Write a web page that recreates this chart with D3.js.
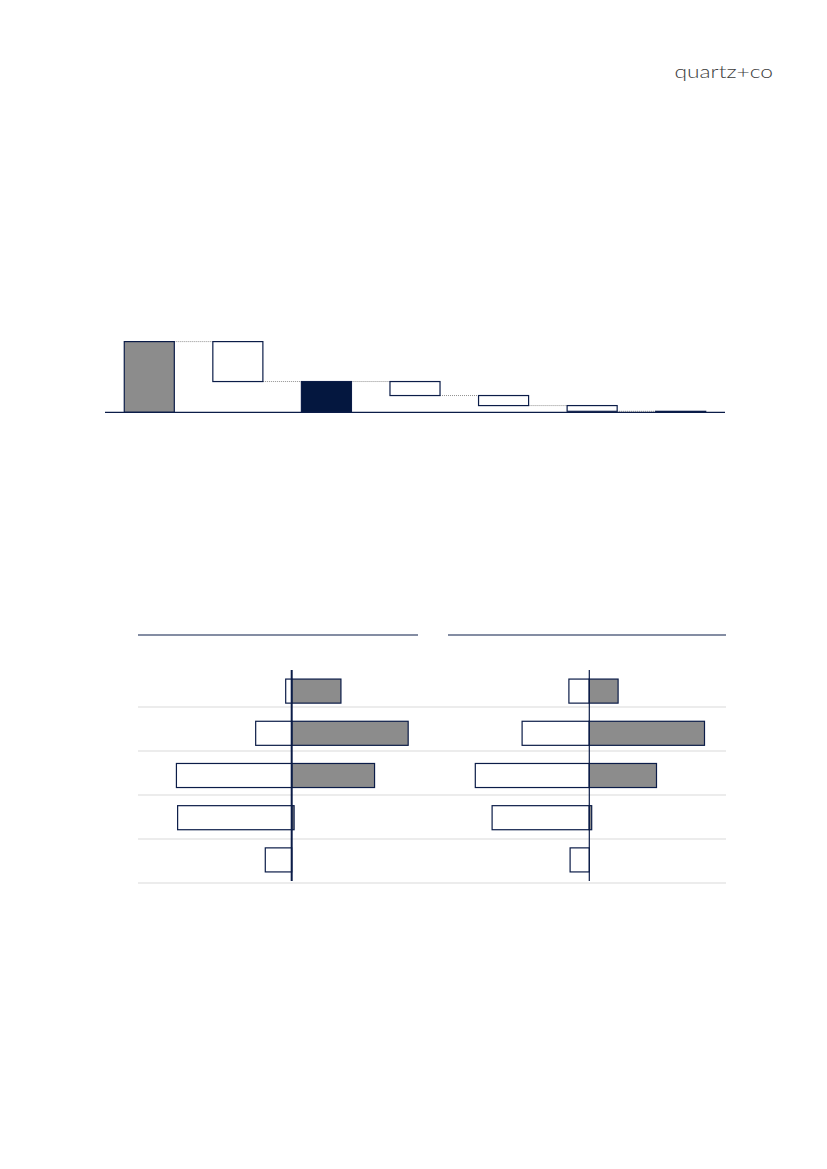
<!DOCTYPE html>
<html><head><meta charset="utf-8">
<script src="https://cdn.jsdelivr.net/npm/d3@7/dist/d3.min.js"></script>
<style>html,body{margin:0;padding:0;background:#fff;}svg{display:block;}</style>
</head><body>
<script>
// ---------- data ----------
const wfCategories = ["Start", "Step 1", "Subtotal", "Step 2", "Step 3", "Step 4", "Step 5"];
const wfTypes = ["total", "delta", "subtotal", "delta", "delta", "delta", "delta"];
const wfValues = [100, -56.5, 0, -19.8, -14.2, -8.1, -1.4];

const rowCategories = ["Row 1", "Row 2", "Row 3", "Row 4", "Row 5"];
const leftNegative = [-5, -30, -96, -95, -22];
const leftPositive = [41, 97, 69, 2, 0];
const rightNegative = [-17, -56, -95, -81, -16];
const rightPositive = [24, 96, 56, 2, 0];

const NAVY = "#04173f", GREY = "#8c8c8c", STROKE = "#0b1c48";

const W = 827, H = 1169;
const svg = d3.select("body").append("svg").attr("width", W).attr("height", H);

// logo
svg.append("text").attr("x", 773).attr("y", 77.5).attr("text-anchor", "end")
  .attr("font-family", "Lato, 'Open Sans', sans-serif").attr("font-weight", 300)
  .attr("font-size", 18.5).attr("fill", "#3c3c3c")
  .attr("textLength", 98.5).attr("lengthAdjust", "spacingAndGlyphs")
  .text("quartz+co");

// ---------- waterfall ----------
let run = 0;
const wf = wfCategories.map((c, i) => {
  const t = wfTypes[i];
  let y0, y1;
  if (t === "total") { y0 = 0; y1 = wfValues[i]; run = wfValues[i]; }
  else if (t === "subtotal") { y0 = 0; y1 = run; }
  else { y0 = run + wfValues[i]; y1 = run; run = run + wfValues[i]; }
  return {c, t, y0, y1, level: run};
});
const wx = d3.scaleBand().domain(wfCategories).range([105, 725]).paddingInner(0.435).paddingOuter(0.2175);
const wy = d3.scaleLinear().domain([0, 100]).range([412.3, 341.6]);
const gw = svg.append("g");
// connectors
wf.slice(0, -1).forEach((d, i) => {
  const n = wf[i + 1];
  gw.append("line")
    .attr("x1", wx(d.c) + wx.bandwidth()).attr("x2", wx(n.c))
    .attr("y1", wy(d.level)).attr("y2", wy(d.level))
    .attr("stroke", "#8f8f8f").attr("stroke-width", 1).attr("stroke-dasharray", "1,1");
});
gw.selectAll("rect").data(wf).join("rect")
  .attr("x", d => wx(d.c)).attr("width", wx.bandwidth())
  .attr("y", d => wy(Math.max(d.y0, d.y1)))
  .attr("height", d => Math.max(0.5, wy(Math.min(d.y0, d.y1)) - wy(Math.max(d.y0, d.y1))))
  .attr("fill", d => d.t === "total" ? GREY : d.t === "subtotal" ? NAVY : "#fff")
  .attr("stroke", STROKE).attr("stroke-width", 1.2);
gw.append("line").attr("x1", 105).attr("x2", 725).attr("y1", wy(0)).attr("y2", wy(0))
  .attr("stroke", STROKE).attr("stroke-width", 1.2);

// ---------- bottom panels ----------
const rowBand = d3.scaleBand().domain(rowCategories).range([663, 883]);
const barBand = d3.scaleBand().domain(rowCategories).range([670, 881]).paddingInner(0.43).paddingOuter(0.215);

// separators
svg.append("g").selectAll("line").data(rowCategories).join("line")
  .attr("x1", 138).attr("x2", 726)
  .attr("y1", d => rowBand(d) + rowBand.bandwidth()).attr("y2", d => rowBand(d) + rowBand.bandwidth())
  .attr("stroke", "#d9d9d9").attr("stroke-width", 1.2);

function panel(neg, pos, range, lineX1, lineX2, axisW) {
  const x = d3.scaleLinear().domain([-128, 128]).range(range);
  const g = svg.append("g");
  g.append("line").attr("x1", lineX1).attr("x2", lineX2).attr("y1", 635).attr("y2", 635)
    .attr("stroke", STROKE).attr("stroke-width", 1.2);
  const nd = rowCategories.map((c, i) => ({c, v: neg[i]})).filter(d => d.v !== 0);
  const pd = rowCategories.map((c, i) => ({c, v: pos[i]})).filter(d => d.v !== 0);
  g.append("g").selectAll("rect").data(nd).join("rect")
    .attr("x", d => x(d.v)).attr("width", d => x(0) - x(d.v))
    .attr("y", d => barBand(d.c)).attr("height", barBand.bandwidth())
    .attr("fill", "#fff").attr("stroke", STROKE).attr("stroke-width", 1.2);
  g.append("g").selectAll("rect").data(pd).join("rect")
    .attr("x", x(0)).attr("width", d => x(d.v) - x(0))
    .attr("y", d => barBand(d.c)).attr("height", barBand.bandwidth())
    .attr("fill", GREY).attr("stroke", STROKE).attr("stroke-width", 1.2);
  g.append("line").attr("x1", x(0)).attr("x2", x(0)).attr("y1", 670).attr("y2", 881)
    .attr("stroke", STROKE).attr("stroke-width", axisW);
}
panel(leftNegative, leftPositive, [138, 445.4], 138, 418, 2);
panel(rightNegative, rightPositive, [435.7, 742.9], 448, 726, 1.2);
</script>
</body></html>
